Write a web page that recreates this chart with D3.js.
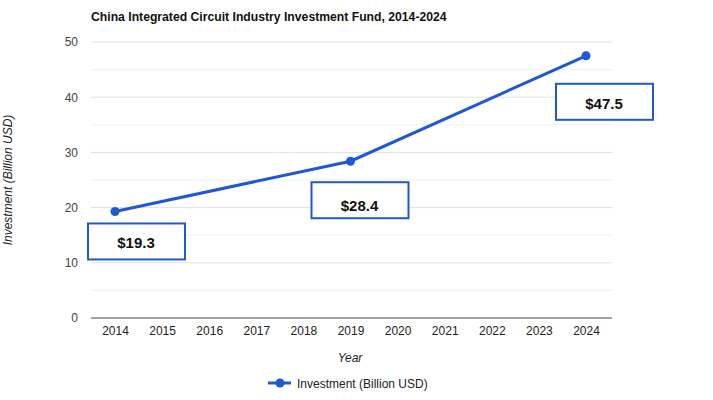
<!DOCTYPE html>
<html>
<head>
<meta charset="utf-8">
<script src="https://cdn.jsdelivr.net/npm/d3@7"></script>
<style>
  body { margin: 0; background: #fff; }
  text { font-family: "Liberation Sans", Arial, sans-serif; }
</style>
</head>
<body>
<script>
// chart data
var years = [2014, 2019, 2024];
var investment = [19.3, 28.4, 47.5];
var labels = ["$19.3", "$28.4", "$47.5"];
var yTicks = [0, 10, 20, 30, 40, 50];
var xTicks = [2014, 2015, 2016, 2017, 2018, 2019, 2020, 2021, 2022, 2023, 2024];

// where each label box sits, relative to its point (dx, dy, text baseline in box)
var boxOffsets = [[-27, 12, 25], [-39, 21, 29], [-30, 28, 25]];

var width = 713, height = 400;
var blue = "#1f58d6";

var svg = d3.select("body").append("svg")
    .attr("width", width)
    .attr("height", height);

var x = d3.scaleLinear().domain([2014, 2024]).range([115, 586]);
var y = d3.scaleLinear().domain([0, 50]).range([318, 42]);

// gridlines, minor ones first
svg.append("g").selectAll("line")
    .data(d3.range(5, 50, 10))
    .enter().append("line")
    .attr("x1", 91).attr("x2", 612)
    .attr("y1", d => y(d)).attr("y2", d => y(d))
    .attr("stroke", "#f1f1f1");

svg.append("g").selectAll("line")
    .data(yTicks.slice(1))
    .enter().append("line")
    .attr("x1", 91).attr("x2", 612)
    .attr("y1", d => y(d)).attr("y2", d => y(d))
    .attr("stroke", "#e0e0e0");

// y axis labels
var yAxis = d3.axisLeft(y).tickValues(yTicks).tickSize(0).tickPadding(0);
var gy = svg.append("g").attr("transform", "translate(78,0)").call(yAxis);
gy.select(".domain").remove();
gy.selectAll("text").attr("font-size", 12).attr("fill", "#444")
    .attr("font-family", "Liberation Sans, Arial, sans-serif");

// baseline
svg.append("line")
    .attr("x1", 91).attr("x2", 612)
    .attr("y1", y(0)).attr("y2", y(0))
    .attr("stroke", "#444").attr("stroke-width", 1);

// x axis labels
var xAxis = d3.axisBottom(x).tickValues(xTicks).tickFormat(d3.format("d")).tickSize(0).tickPadding(0);
var gx = svg.append("g").attr("transform", "translate(0,324)").call(xAxis);
gx.select(".domain").remove();
gx.selectAll("text").attr("font-size", 12).attr("fill", "#222")
    .attr("dy", "0.9em")
    .attr("font-family", "Liberation Sans, Arial, sans-serif");

// line and points
var pts = years.map((d, i) => ({ year: d, value: investment[i], label: labels[i], off: boxOffsets[i] }));

var line = d3.line().x(d => x(d.year)).y(d => y(d.value));

svg.append("path")
    .datum(pts)
    .attr("d", line)
    .attr("fill", "none")
    .attr("stroke", blue)
    .attr("stroke-width", 3);

svg.selectAll(".pt")
    .data(pts)
    .enter().append("circle")
    .attr("class", "pt")
    .attr("cx", d => x(d.year))
    .attr("cy", d => y(d.value))
    .attr("r", 4.5)
    .attr("fill", blue);

// annotation boxes
var boxes = svg.selectAll(".box")
    .data(pts)
    .enter().append("g")
    .attr("class", "box")
    .attr("transform", d => "translate(" + (x(d.year) + d.off[0]) + "," + (y(d.value) + d.off[1]) + ")");

boxes.append("rect")
    .attr("width", 97).attr("height", 36)
    .attr("fill", "#fff")
    .attr("stroke", blue)
    .attr("stroke-width", 2);

boxes.append("text")
    .attr("x", 48).attr("y", d => d.off[2])
    .attr("text-anchor", "middle")
    .attr("font-size", 15)
    .attr("font-weight", "bold")
    .attr("fill", "#111")
    .text(d => d.label);

// titles
svg.append("text")
    .attr("x", 91).attr("y", 21)
    .attr("font-size", 12.2).attr("font-weight", "bold").attr("fill", "#111")
    .text("China Integrated Circuit Industry Investment Fund, 2014-2024");

svg.append("text")
    .attr("transform", "translate(12,180) rotate(-90)")
    .attr("text-anchor", "middle")
    .attr("font-size", 12).attr("font-style", "italic").attr("fill", "#222")
    .text("Investment (Billion USD)");

svg.append("text")
    .attr("x", 350).attr("y", 362)
    .attr("text-anchor", "middle")
    .attr("font-size", 12).attr("font-style", "italic").attr("fill", "#222")
    .text("Year");

// legend
var lg = svg.append("g").attr("transform", "translate(268,383)");
lg.append("line").attr("x1", 0).attr("x2", 23).attr("y1", 0).attr("y2", 0)
    .attr("stroke", blue).attr("stroke-width", 3);
lg.append("circle").attr("cx", 12).attr("cy", 0).attr("r", 4.5).attr("fill", blue);
lg.append("text").attr("x", 29).attr("y", 4.5)
    .attr("font-size", 12).attr("fill", "#222")
    .text("Investment (Billion USD)");
</script>
</body>
</html>
